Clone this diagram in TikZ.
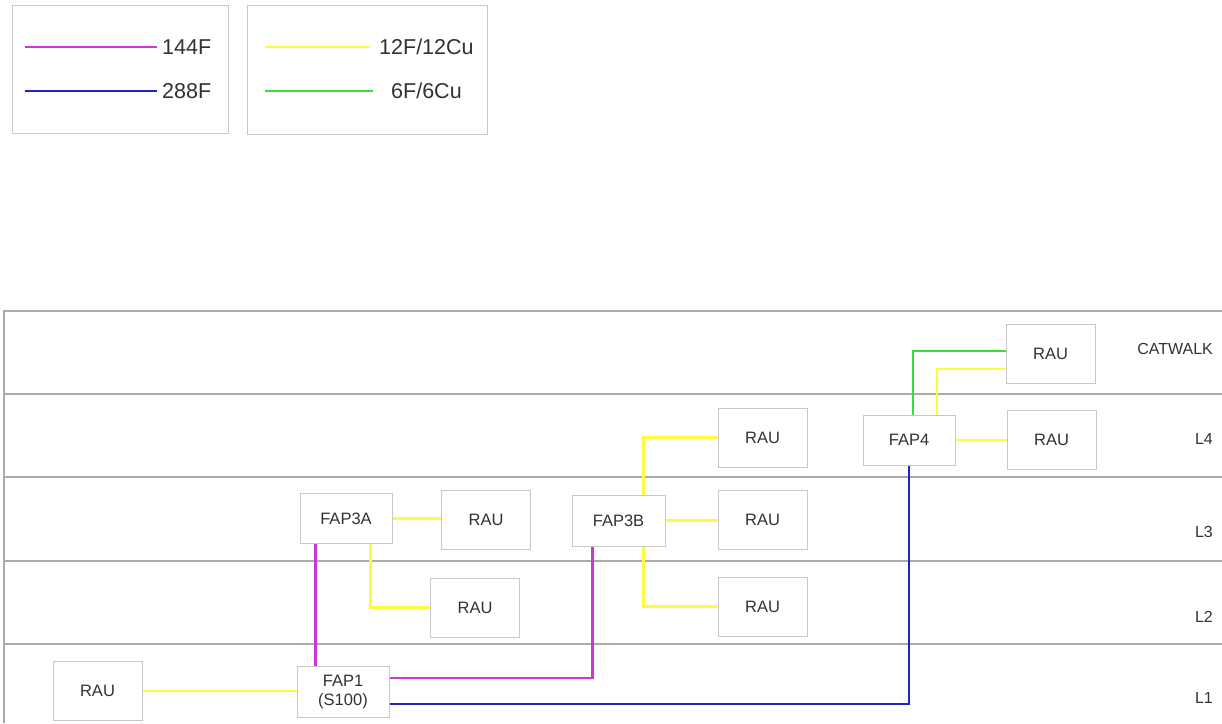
\documentclass[tikz,border=0pt]{standalone}
\usepackage{fontspec}
\setmainfont{Liberation Sans}
\definecolor{cmag}{RGB}{205,55,210}
\definecolor{cblue}{RGB}{35,35,195}
\definecolor{cyel}{RGB}{255,250,60}
\definecolor{cgrn}{RGB}{60,220,60}
\definecolor{cbox}{RGB}{200,200,200}
\definecolor{cfloor}{RGB}{170,170,170}
\definecolor{ctext}{RGB}{50,50,50}
\begin{document}
\begin{tikzpicture}[x=1pt,y=-1pt,
  unit/.style={draw=cbox,line width=1pt,fill=white,inner sep=0pt,text=ctext,
    font=\fontsize{16.5}{18.5}\selectfont,align=center},
  rau/.style={unit,minimum width=89pt,minimum height=59pt},
  fap/.style={unit,minimum width=92pt,minimum height=50pt},
  mag/.style={draw=cmag,line width=2.5pt},
  blu/.style={draw=cblue,line width=2.5pt},
  yel/.style={draw=cyel,line width=2.5pt},
  grn/.style={draw=cgrn,line width=2.5pt},
  floor/.style={draw=cfloor,line width=1.5pt},
  lbl/.style={text=ctext,font=\fontsize{16}{18}\selectfont,inner sep=0pt,anchor=east},
  leg/.style={text=ctext,font=\fontsize{21.5}{24}\selectfont,inner sep=0pt,anchor=west},
  legbox/.style={draw=cbox,line width=1pt}]
\useasboundingbox (0,0) rectangle (1222,723);
\fill[white] (0,0) rectangle (1222,723);
% legend
\draw[legbox] (12,5) rectangle (228,133);
\draw[legbox] (247,5) rectangle (487,134);
\node[leg] (t144) at (162,47) {144F};
\node[leg] (t288) at (162,91) {288F};
\node[leg] (t12) at (379,47) {12F/12Cu};
\node[leg] (t6) at (391,91) {6F/6Cu};
\coordinate (s144) at (25,47);
\coordinate (s288) at (25,91);
\coordinate (s12) at (265,47);
\coordinate (s6) at (265,91);
\draw[mag] (s144) -- ([xshift=-5pt]t144.west);
\draw[blu] (s288) -- ([xshift=-5pt]t288.west);
\draw[yel] (s12) -- ([xshift=-9pt]t12.west);
\draw[grn] (s6) -- ([xshift=-18pt]t6.west);
% floors
\draw[floor] (4,723) -- (4,311) -- (1222,311);
\foreach \yy in {394,477,561,644} \draw[floor] (4,\yy) -- (1222,\yy);
\node[lbl] (lcw) at (1213,349) {CATWALK};
\node[lbl] (l4) at (1213,439) {L4};
\node[lbl] (l3) at (1213,532) {L3};
\node[lbl] (l2) at (1213,617) {L2};
\node[lbl] (l1) at (1213,698) {L1};
% units
\node[rau] (rau1) at (97.5,691) {RAU};
\node[fap,minimum height=51pt] (fap1) at (343,692) {FAP1\\(S100)};
\node[fap] (fap3a) at (346,518.5) {FAP3A};
\node[rau] (rau3a) at (486,519.5) {RAU};
\node[rau] (rau2a) at (475,607.5) {RAU};
\node[fap,minimum width=93pt,minimum height=51pt] (fap3b) at (618.5,520.5) {FAP3B};
\node[rau] (rau4b) at (762.5,437.5) {RAU};
\node[rau] (rau3b) at (762.5,519.5) {RAU};
\node[rau] (rau2b) at (762.5,606.5) {RAU};
\node[fap] (fap4) at (909,440) {FAP4};
\node[rau] (raucw) at (1050.5,353.5) {RAU};
\node[rau] (rau4) at (1051.5,439.5) {RAU};
% connectors
\draw[yel] (rau1.east) -- (rau1.east -| fap1.west);
\draw[mag] ([xshift=16pt]fap3a.south west) -- ([xshift=16pt]fap3a.south west |- fap1.north);
\draw[yel] (fap3a.east) -- (fap3a.east -| rau3a.west);
\draw[yel] ([xshift=-22pt]fap3a.south east) |- (rau2a.west);
\draw[mag] ([yshift=14pt]fap1.east) -| ([xshift=-26pt]fap3b.south);
\draw[blu] ([yshift=-12pt]fap1.east) -| (fap4.south);
\draw[yel] ([xshift=25pt]fap3b.north) |- (rau4b.west);
\draw[yel] (fap3b.east) -- (fap3b.east -| rau3b.west);
\draw[yel] ([xshift=25pt]fap3b.south) |- (rau2b.west);
\draw[grn] ([xshift=4pt]fap4.north) |- ([yshift=2.5pt]raucw.west);
\draw[yel] ([xshift=28pt]fap4.north) |- ([yshift=-15.5pt]raucw.west);
\draw[yel] (fap4.east) -- (fap4.east -| rau4.west);
\end{tikzpicture}
\end{document}
